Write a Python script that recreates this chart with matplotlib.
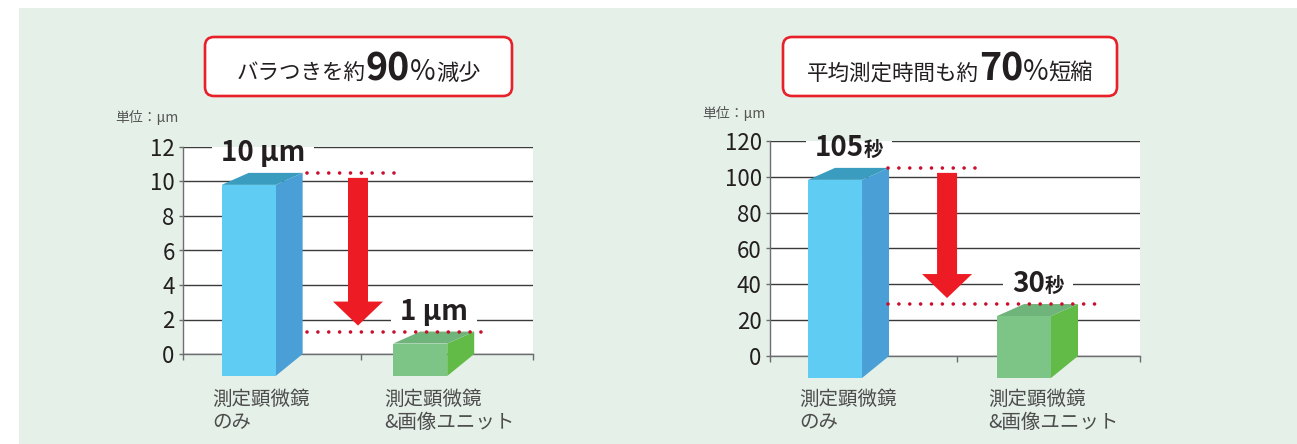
import matplotlib
matplotlib.use("Agg")
import matplotlib.pyplot as plt
from matplotlib.patches import Polygon, Rectangle, FancyBboxPatch
from matplotlib.transforms import IdentityTransform

plt.rcParams['font.family'] = ['Noto Sans CJK JP', 'DejaVu Sans']

W, H = 1297, 444
BG = '#e5f0e8'
TXT = '#231f20'
GRAY = '#4d4d4d'
RED = '#ed1c24'
DOT = '#c8102e'

# データ
categories = ['測定顕微鏡\nのみ', '測定顕微鏡\n&画像ユニット']

spread_vals = [10.5, 1.3]          # バラつき (μm)
spread_labels = [[('10 μm', 20)], [('1 μm', 20)]]
spread_ticks = [0, 2, 4, 6, 8, 10, 12]

time_vals = [105, 29]              # 平均測定時間 (秒)
time_labels = [[('105', 20), ('秒', 14)], [('30', 20), ('秒', 14)]]
time_ticks = [0, 20, 40, 60, 80, 100, 120]

title_left = [('バラつきを約', 15.5, 'normal'), ('90', 27, 'bold'),
              ('%', 20, 'normal'), ('減少', 16, 'normal')]
title_right = [('平均測定時間も約', 15.5, 'normal'), ('70', 27, 'bold'),
               ('%', 20, 'normal'), ('短縮', 16, 'normal')]
unit_text = '単位：μm'

bar_front = ['#5fcdf3', '#7cc586']
bar_side = ['#4a9fd6', '#62bb47']
bar_top = ['#3a9dc0', '#6fb47a']

fig = plt.figure(figsize=(W / 100, H / 100), dpi=100)
fig.patch.set_facecolor('white')
ID = IdentityTransform()


def P(x, y):
    # 画像のピクセル座標（上が0）→ 表示座標
    return x, H - y


# 背景パネル
fig.add_artist(Rectangle(P(19, H), W - 19, H - 8, transform=ID,
                         facecolor=BG, edgecolor='none', zorder=0))

renderer = fig.canvas.get_renderer()


def put_pieces(xc, ybase, pieces, zorder=10, color=TXT, weight='bold'):
    texts = []
    for p in pieces:
        s, size = p[0], p[1]
        w = p[2] if len(p) > 2 else weight
        t = fig.text(0, 0, s, fontsize=size, fontweight=w, color=color,
                     ha='left', va='baseline', transform=ID, zorder=zorder)
        texts.append(t)
    widths = [t.get_window_extent(renderer).width for t in texts]
    x = xc - sum(widths) / 2
    for t, w in zip(texts, widths):
        t.set_position((x, ybase))
        x += w
    return texts


def make_panel(rect_px, xlim, ylim, ticks, vals, labels, dot_start, dot_ends,
               arrow_x, unit_pos):
    x0, x1, ytop, ybot = rect_px
    ax = fig.add_axes([x0 / W, (H - ybot) / H, (x1 - x0) / W, (ybot - ytop) / H])
    ax.set_xlim(*xlim)
    ax.set_ylim(*ylim)
    ax.set_facecolor('white')
    ax.set_axisbelow(True)
    for s in ['top', 'right']:
        ax.spines[s].set_visible(False)
    ax.spines['left'].set_color('#6d6e71')
    ax.spines['bottom'].set_color('#6d6e71')
    ax.spines['left'].set_linewidth(1.0)
    ax.spines['bottom'].set_linewidth(1.0)
    ax.set_yticks(ticks)
    ax.set_xticks([xlim[0], 0.5, xlim[1]])
    ax.set_xticklabels([])
    ax.tick_params(axis='y', length=3, width=1, color='#6d6e71', pad=3,
                   labelsize=16, labelcolor=TXT)
    ax.tick_params(axis='x', length=4, width=1, color='#6d6e71')
    ax.yaxis.grid(True, color='#3a3a3a', linewidth=1.0)

    # 3D風の棒
    for i, v in enumerate(vals):
        x, y0 = ax.transData.transform((i, 0))
        _, y1 = ax.transData.transform((i, v))
        hw, dx, dyb, dyt = 27, 27, 22, 12
        bl, br = x - hw, x + hw
        fl, fr = bl - dx, br - dx
        front = [(fl, y0 - dyb), (fr, y0 - dyb), (fr, y1 - dyt), (fl, y1 - dyt)]
        side = [(fr, y0 - dyb), (br, y0), (br, y1), (fr, y1 - dyt)]
        top = [(fl, y1 - dyt), (fr, y1 - dyt), (br, y1), (bl, y1)]
        for pts, c in [(side, bar_side[i]), (top, bar_top[i]), (front, bar_front[i])]:
            ax.add_patch(Polygon(pts, closed=True, transform=ID, facecolor=c,
                                 edgecolor='none', clip_on=False, zorder=3))
        # カテゴリ名
        fig.text(fl - 9, H - 389, categories[i], transform=ID, ha='left',
                 va='top', fontsize=14, color=GRAY, linespacing=1.1)
        # 値ラベル（目盛線をマスク）
        texts = put_pieces(x - 13, y1 + 12, labels[i], zorder=8)
        bb = [t.get_window_extent(renderer) for t in texts]
        mx0 = min(b.x0 for b in bb) - 9
        mx1 = max(b.x1 for b in bb) + 9
        my0 = min(b.y0 for b in bb) - 1
        my1 = max(b.y1 for b in bb) + 1
        _, ax_top = ax.transData.transform((0, ylim[1]))
        if my1 > ax_top:
            fig.add_artist(Rectangle((mx0, ax_top - 0.5), mx1 - mx0, my1 - ax_top + 0.5,
                                     transform=ID, facecolor=BG, edgecolor='none', zorder=7))
        fig.add_artist(Rectangle((mx0, my0), mx1 - mx0, min(my1, ax_top - 0.5) - my0,
                                 transform=ID, facecolor='white', edgecolor='none', zorder=7))

    # 点線
    for v, xe in zip(vals, dot_ends):
        ax.plot([dot_start, xe], [v, v], color=DOT, lw=2.6,
                ls=(0, (0.01, 3.0)), dash_capstyle='round', zorder=6, clip_on=False)

    # 赤い矢印
    ax_, ya = ax.transData.transform((arrow_x, vals[0]))
    _, yb = ax.transData.transform((arrow_x, vals[1]))
    top_y, tip_y = ya - 5, yb + 6
    sw, hwid, hl = 10, 25, 24
    arrow = [(ax_ - sw, top_y), (ax_ + sw, top_y), (ax_ + sw, tip_y + hl),
             (ax_ + hwid, tip_y + hl), (ax_, tip_y), (ax_ - hwid, tip_y + hl),
             (ax_ - sw, tip_y + hl)]
    ax.add_patch(Polygon(arrow, closed=True, transform=ID, facecolor=RED,
                         edgecolor='none', clip_on=False, zorder=5))

    # 単位
    fig.text(unit_pos[0], H - unit_pos[1], unit_text, transform=ID, ha='left',
             va='center', fontsize=10, color='#555555')
    return ax


def title_box(x0, x1, pieces):
    box = FancyBboxPatch(P(x0, 96), x1 - x0, 96 - 37, transform=ID,
                         boxstyle='round,pad=0,rounding_size=9',
                         facecolor='white', edgecolor='#e8202a', linewidth=1.9,
                         zorder=2)
    fig.add_artist(box)
    put_pieces((x0 + x1) / 2, H - 80, pieces, zorder=3, weight='normal')


make_panel((183, 533, 147, 354), (-0.54, 1.5), (0, 12), spread_ticks,
           spread_vals, spread_labels, 0.18, [0.69, 1.245], 0.48, (115, 117))
make_panel((770, 1140, 141, 356), (-0.487, 1.471), (0, 120), time_ticks,
           time_vals, time_labels, 0.14, [0.61, 1.275], 0.45, (702, 113))

title_box(205, 512, title_left)
title_box(783, 1117, title_right)

fig.savefig('out.png', dpi=100, facecolor='white')
